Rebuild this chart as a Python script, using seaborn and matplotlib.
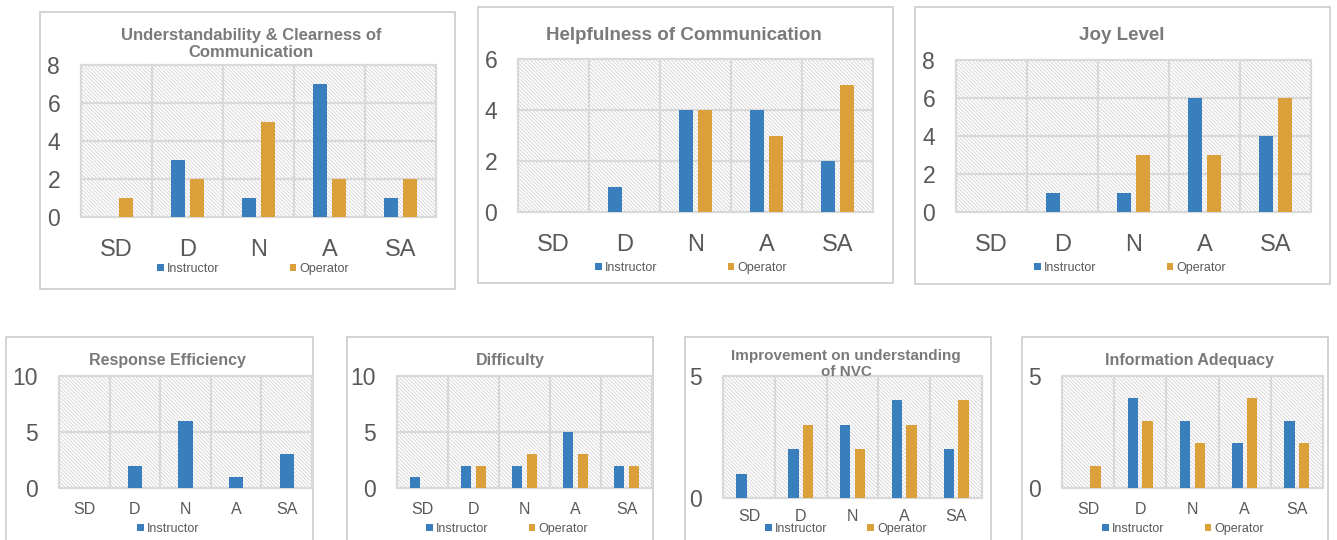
import numpy as np
import pandas as pd
import matplotlib
matplotlib.use("Agg")
import matplotlib.pyplot as plt
from matplotlib.patches import Rectangle, Patch
import seaborn as sns

# ---- data ---------------------------------------------------------------
categories = ["SD", "D", "N", "A", "SA"]
groups = ["Instructor", "Operator"]

understanding_instructor = [0, 3, 1, 7, 1]
understanding_operator = [1, 2, 5, 2, 2]
helpfulness_instructor = [0, 1, 4, 4, 2]
helpfulness_operator = [0, 0, 4, 3, 5]
joy_instructor = [0, 1, 1, 6, 4]
joy_operator = [0, 0, 3, 3, 6]
response_instructor = [0, 2, 6, 1, 3]
difficulty_instructor = [1, 2, 2, 5, 2]
difficulty_operator = [0, 2, 3, 3, 2]
nvc_instructor = [1, 2, 3, 4, 2]
nvc_operator = [0, 3, 2, 3, 4]
adequacy_instructor = [0, 4, 3, 2, 3]
adequacy_operator = [1, 3, 2, 4, 2]

titles = [
    "Understandability & Clearness of\nCommunication",
    "Helpfulness of Communication",
    "Joy Level",
    "Response Efficiency",
    "Difficulty",
    "Improvement on understanding\nof NVC",
    "Information Adequacy",
]
y_ticks = [
    [0, 2, 4, 6, 8],
    [0, 2, 4, 6],
    [0, 2, 4, 6, 8],
    [0, 5, 10],
    [0, 5, 10],
    [0, 5],
    [0, 5],
]
series = [
    [understanding_instructor, understanding_operator],
    [helpfulness_instructor, helpfulness_operator],
    [joy_instructor, joy_operator],
    [response_instructor],
    [difficulty_instructor, difficulty_operator],
    [nvc_instructor, nvc_operator],
    [adequacy_instructor, adequacy_operator],
]

# ---- styling ------------------------------------------------------------
W, H = 1337, 540
BLUE = "#3a7fbd"
GOLD = "#dca03a"
GRID = "#d9d9d9"
HATCH = "#d2d2d2"
TICK = "#595959"
TITLE = "#7a7a7a"
FRAME = "#d0d0d0"

sns.set_theme(style="white")
plt.rcParams["font.family"] = ["Liberation Sans", "DejaVu Sans"]
plt.rcParams["hatch.linewidth"] = 0.6

# pixel layout: frame box, plot box, title centre, title size,
# legend anchor, legend column spacing, tick sizes, x label pad
layout = [
    dict(box=(40, 12, 455, 289), plot=(81, 65, 436, 217), tc=(251, 44), ts=12.0,
         leg=(157, 269), cs=5.6, ys=16.5, xs=17, xpad=16, ypad=15),
    dict(box=(478, 7, 893, 283), plot=(518, 59, 873, 212), tc=(684, 35), ts=13.5,
         leg=(595, 268), cs=5.6, ys=16.5, xs=17, xpad=16, ypad=15),
    dict(box=(915, 7, 1330, 284), plot=(956, 60, 1311, 212), tc=(1122, 35), ts=13.5,
         leg=(1034, 268), cs=5.6, ys=16.5, xs=17, xpad=16, ypad=15),
    dict(box=(6, 337, 313, 560), plot=(59, 376, 312, 488), tc=(167, 360), ts=11.5,
         leg=(137, 529), cs=3.2, ys=16.5, xs=11.5, xpad=10, ypad=15),
    dict(box=(347, 337, 653, 560), plot=(397, 376, 652, 488), tc=(510, 360), ts=11.5,
         leg=(426, 529), cs=3.2, ys=16.5, xs=11.5, xpad=10, ypad=15),
    dict(box=(685, 337, 991, 560), plot=(723, 376, 982, 498), tc=(846, 364), ts=11.0,
         leg=(765, 529), cs=3.2, ys=16.5, xs=11.5, xpad=8, ypad=15),
    dict(box=(1022, 337, 1328, 560), plot=(1062, 376, 1323, 488), tc=(1189, 360), ts=11.5,
         leg=(1102, 529), cs=3.2, ys=16.5, xs=11.5, xpad=10, ypad=15),
]

fig = plt.figure(figsize=(W / 100, H / 100), dpi=100)
fig.patch.set_facecolor("white")


def fig_rect(x0, y0, x1, y1):
    return [x0 / W, 1 - y1 / H, (x1 - x0) / W, (y1 - y0) / H]


for title, ticks, vals, lay in zip(titles, y_ticks, series, layout):
    # chart frame
    bx = fig_rect(*lay["box"])
    fig.add_artist(Rectangle((bx[0], bx[1]), bx[2], bx[3], transform=fig.transFigure,
                             fill=False, edgecolor=FRAME, lw=1.3, zorder=0))

    ax = fig.add_axes(fig_rect(*lay["plot"]))
    ax.set_facecolor("white")
    ax.add_patch(Rectangle((0, 0), 1, 1, transform=ax.transAxes, facecolor="white",
                           edgecolor=HATCH, hatch="\\" * 9, lw=0, zorder=0))

    names = groups[:len(vals)]
    df = pd.DataFrame({
        "Response": categories * len(vals),
        "Count": [v for s in vals for v in s],
        "Group": [g for g in names for _ in categories],
    })
    if len(vals) == 2:
        sns.barplot(data=df, x="Response", y="Count", hue="Group", order=categories,
                    hue_order=names, palette=[BLUE, GOLD], width=0.56, gap=0.29,
                    errorbar=None, saturation=1, linewidth=0, legend=False,
                    ax=ax, zorder=3)
    else:
        sns.barplot(data=df, x="Response", y="Count", order=categories, color=BLUE,
                    width=0.28, errorbar=None, saturation=1, linewidth=0,
                    ax=ax, zorder=3)

    ax.set_xlim(-0.5, len(categories) - 0.5)
    ax.set_ylim(0, ticks[-1])
    ax.set_yticks(ticks)
    ax.set_xlabel("")
    ax.set_ylabel("")
    for s in ax.spines.values():
        s.set_visible(False)
    for t in ticks:
        ax.axhline(t, color=GRID, lw=1.6, zorder=1, clip_on=False)
    for b in np.arange(-0.5, len(categories), 1.0):
        ax.axvline(b, color=GRID, lw=1.6, zorder=1, clip_on=False)
    ax.tick_params(axis="x", length=0, pad=lay["xpad"], labelsize=lay["xs"], labelcolor=TICK)
    ax.tick_params(axis="y", length=0, pad=lay["ypad"], labelsize=lay["ys"], labelcolor=TICK)

    fig.text(lay["tc"][0] / W, 1 - lay["tc"][1] / H, title, ha="center", va="center",
             fontsize=lay["ts"], fontweight="bold", color=TITLE, linespacing=1.2)

    handles = [Patch(facecolor=c, edgecolor="none", label=n)
               for c, n in zip([BLUE, GOLD], names)]
    fig.legend(handles=handles, loc="center left",
               bbox_to_anchor=(lay["leg"][0] / W, 1 - lay["leg"][1] / H),
               ncol=len(names), frameon=False, fontsize=9, labelcolor=TICK,
               handlelength=0.55, handleheight=0.55, handletextpad=0.25,
               columnspacing=lay["cs"], borderpad=0, borderaxespad=0)

fig.savefig("out.png", dpi=100, facecolor="white")
